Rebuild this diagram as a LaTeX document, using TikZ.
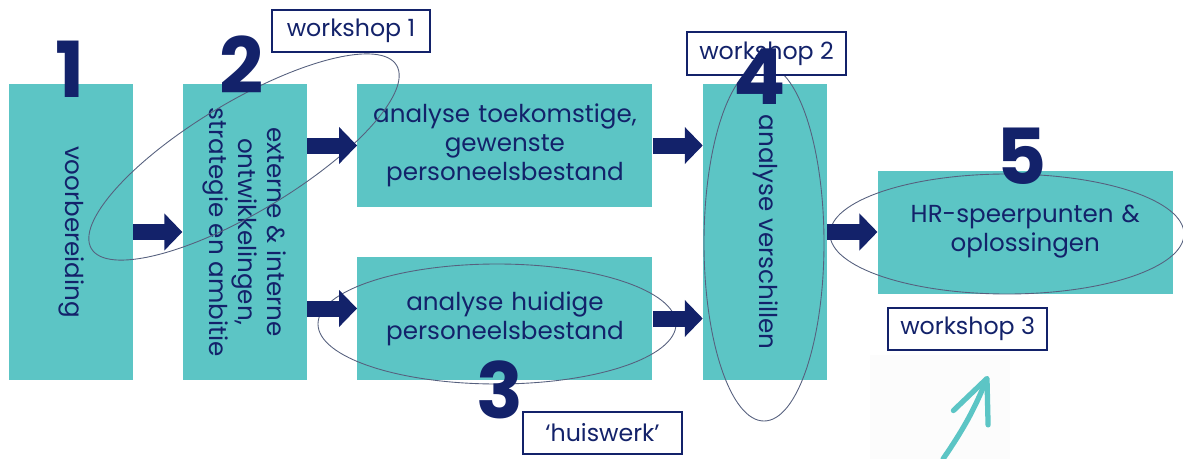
\documentclass[tikz,border=0pt]{standalone}
\usepackage{fontspec}
\setmainfont{Poppins}
\usetikzlibrary{shapes,arrows.meta}
\usetikzlibrary{positioning}
\definecolor{lagoon}{HTML}{5CC5C5}
\definecolor{ink}{HTML}{13226A}
\definecolor{ringgray}{HTML}{56607E}
\newcommand{\turntext}[1]{\rotatebox{-90}{\begin{tabular}{@{}c@{}}#1\end{tabular}}}
\tikzstyle{vblock} = [rectangle, fill=lagoon, text=ink,
    minimum width=2.48cm, minimum height=5.92cm, inner sep=0pt]
\tikzstyle{hblock} = [rectangle, fill=lagoon, text=ink,
    minimum width=5.9cm, minimum height=2.46cm, text width=5.7cm, align=center, inner sep=0pt]
\tikzstyle{flow} = [draw=ink, line width=0.32cm, -{Triangle[length=0.36cm, width=0.72cm]}]
\tikzstyle{tag} = [rectangle, draw=ink, line width=1.1pt, fill=white, text=ink,
    minimum width=3.17cm, minimum height=0.85cm, font=\fontsize{13.5}{16}\selectfont]
\tikzstyle{ring} = [draw=ringgray, line width=0.5pt]
\tikzstyle{digit} = [text=ink, inner sep=0pt, font=\fontsize{44}{44}\selectfont\bfseries]
\tikzstyle{pen} = [draw=lagoon, line width=3pt, line cap=round,
    -{Straight Barb[length=0.85cm, width=0.75cm, round]}]

\begin{document}
\begin{tikzpicture}[node distance = 1cm, font=\fontsize{14}{16.5}\selectfont]
    \useasboundingbox (0,0) rectangle (23.66,-9.18);
    \fill[black!1.2] (17.4,-7.1) rectangle (20.2,-9.3);

    % Place nodes
    \node [vblock] at (1.42,-4.64) (prep) {\turntext{voorbereiding}};
    \node [vblock, right=0.98cm of prep] (ext)
        {\turntext{externe \& interne\\ontwikkelingen,\\strategie en ambitie}};
    \node [hblock, right=of ext.north east, anchor=north west] (future)
        {analyse toekomstige,\\gewenste\\personeelsbestand};
    \node [hblock, right=of ext.south east, anchor=south west] (current)
        {analyse huidige\\personeelsbestand};
    \node [vblock, right=of future.north east, anchor=north west] (diff)
        {\turntext{analyse verschillen}};
    \node [hblock, right=of diff] (hr) {HR-speerpunten \&\\oplossingen};

    % Rings
    \draw [ring, rotate around={31:(4.88,-3.14)}] (4.88,-3.14) ellipse (3.56 and 1.1);
    \draw [ring] (9.94,-6.48) ellipse (3.58 and 1.2);
    \draw [ring] (15.28,-4.86) ellipse (1.2 and 3.56);
    \draw [ring] (20.14,-4.68) ellipse (3.54 and 1.2);

    % Tags
    \node [tag] at (7.02,-0.62) (ws1) {workshop 1};
    \node [tag] at (15.33,-1.07) (ws2) {workshop 2};
    \node [tag] at (12.05,-8.66) (home) {`huiswerk'};
    \node [tag, below=0.26cm of hr.south west, anchor=north west, xshift=0.2cm] (ws3) {workshop 3};

    % Draw edges
    \path [flow] (prep) -- (ext);
    \path [flow] (ext.east |- future.west) -- (future.west);
    \path [flow] ([yshift=0.2cm]ext.east |- current.west) -- ([yshift=0.2cm]current.west);
    \path [flow] (future.east) -- (future.east -| diff.west);
    \path [flow] (current.east) -- (current.east -| diff.west);
    \path [flow] (diff) -- (hr);

    % Numbers
    \node [digit] at (1.4,-1.38) (n1) {1};
    \node [digit] at (4.84,-1.3) (n2) {2};
    \node [digit] at (10.0,-7.8) (n3) {3};
    \node [digit] at (15.2,-1.54) (n4) {4};
    \node [digit] at (20.44,-3.12) (n5) {5};

    % Pointer
    \coordinate (penstart) at (18.86,-9.18);
    \coordinate (pentip) at (19.76,-7.52);
    \path [pen] (penstart) to[bend right=6] (pentip);
\end{tikzpicture}
\end{document}
